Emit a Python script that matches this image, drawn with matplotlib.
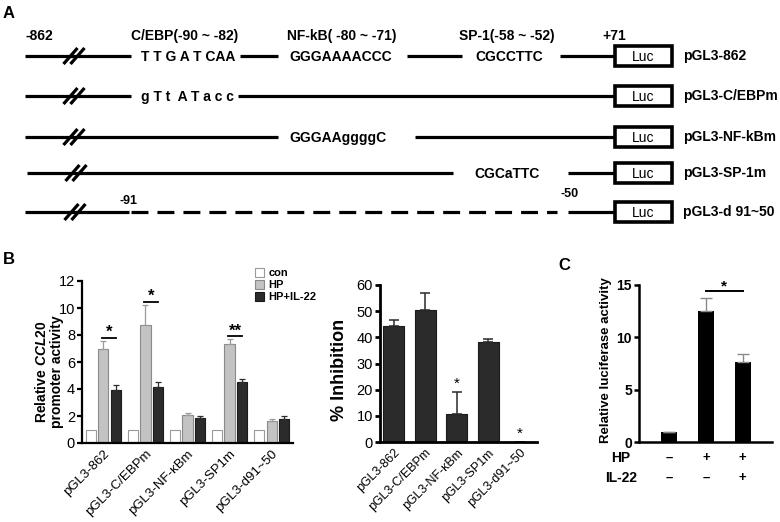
import matplotlib
matplotlib.use('Agg')
import matplotlib.pyplot as plt
import numpy as np
from matplotlib.patches import Rectangle

plt.rcParams['font.family'] = ['Liberation Sans', 'DejaVu Sans']
plt.rcParams['mathtext.fontset'] = 'custom'
plt.rcParams['mathtext.it'] = 'Liberation Sans:italic:bold'
plt.rcParams['mathtext.rm'] = 'Liberation Sans:bold'
plt.rcParams['mathtext.bf'] = 'Liberation Sans:bold'
plt.rcParams['lines.scale_dashes'] = False

# ---------------- data ----------------
# Panel A (promoter constructs)
construct_names = ['pGL3-862', 'pGL3-C/EBPm', 'pGL3-NF-kBm', 'pGL3-SP-1m', 'pGL3-d 91~50']
site_titles = ['C/EBP(-90 ~ -82)', 'NF-kB( -80 ~ -71)', 'SP-1(-58 ~ -52)']
wt_sites = ['T T G A T CAA', 'GGGAAAACCC', 'CGCCTTC']
mut_sites = ['g T t  A T a c c', 'GGGAAggggC', 'CGCaTTC']
end_labels = ['-862', '+71']
deletion_labels = ['-91', '-50']
reporter = 'Luc'

# Panel B (left): relative CCL20 promoter activity
b_constructs = ['pGL3-862', 'pGL3-C/EBPm', 'pGL3-NF-\u03baBm', 'pGL3-SP1m', 'pGL3-d91~50']
series_names = ['con', 'HP', 'HP+IL-22']
con_vals = [1.0, 1.0, 1.0, 1.0, 1.0]
hp_vals = [6.96, 8.74, 2.05, 7.31, 1.63]
hp_err = [0.6, 1.5, 0.15, 0.37, 0.13]
il_vals = [3.93, 4.12, 1.85, 4.50, 1.78]
il_err = [0.37, 0.40, 0.18, 0.24, 0.22]
b_sig_groups = [0, 1, 3]
b_sig_marks = ['*', '*', '**']

# Panel B (right): % inhibition
inhib_vals = [44.2, 50.6, 10.6, 38.2, 0.0]
inhib_err = [2.6, 6.2, 8.6, 1.0, 0.0]
inhib_sig = [2, 4]

# Panel C
c_vals = [1.0, 12.5, 7.6]
c_err = [0.0, 1.3, 0.85]
c_hp = ['\u2013', '+', '+']
c_il22 = ['\u2013', '\u2013', '+']

# ---------------- figure ----------------
fig = plt.figure(figsize=(7.8, 5.22), dpi=100)
ax0 = fig.add_axes([0, 0, 1, 1])
ax0.set_xlim(0, 780)
ax0.set_ylim(522, 0)
ax0.axis('off')

LW = 2.3
BOLD = dict(fontweight='bold')

def seg(x1, x2, y, **kw):
    ax0.plot([x1, x2], [y, y], color='black', lw=LW, solid_capstyle='butt', **kw)

def brk(xc, y):
    for off in (-3.5, 3.5):
        ax0.plot([xc + off - 7, xc + off + 7], [y + 8, y - 8], color='black', lw=LW,
                 solid_capstyle='butt')

def luc(y, name):
    ax0.add_patch(Rectangle((615, y - 10), 57, 20, facecolor='white', edgecolor='black', lw=2.6))
    ax0.text(643.5, y + 1, reporter, ha='center', va='center', fontsize=10)
    ax0.text(683, y, name, ha='left', va='center', fontsize=10, **BOLD)

row_y = [56, 96, 137, 173, 212]

# header labels
ax0.text(25, 36, end_labels[0], ha='left', va='center', fontsize=10, **BOLD)
for xc, t in zip([185, 342, 507], site_titles):
    ax0.text(xc, 36, t, ha='center', va='center', fontsize=10, **BOLD)
ax0.text(614, 36, end_labels[1], ha='center', va='center', fontsize=10, **BOLD)

# row 1: wild type
y = row_y[0]
seg(25, 131, y); seg(240, 278, y); seg(407, 462, y); seg(560, 615, y)
brk(74, y)
for xc, t in zip([188, 341, 509], wt_sites):
    ax0.text(xc, y + 1, t, ha='center', va='center', fontsize=10, **BOLD)
luc(y, construct_names[0])

# row 2: C/EBP mutant
y = row_y[1]
seg(25, 131, y); seg(238, 615, y)
brk(74, y)
ax0.text(187, y + 1, mut_sites[0], ha='center', va='center', fontsize=10, **BOLD)
luc(y, construct_names[1])

# row 3: NF-kB mutant
y = row_y[2]
seg(25, 278, y); seg(415, 615, y)
brk(74, y)
ax0.text(338, y + 1, mut_sites[1], ha='center', va='center', fontsize=10, **BOLD)
luc(y, construct_names[2])

# row 4: SP-1 mutant
y = row_y[3]
seg(27, 453, y); seg(568, 615, y)
brk(76, y)
ax0.text(507, y + 1, mut_sites[2], ha='center', va='center', fontsize=10, **BOLD)
luc(y, construct_names[3])

# row 5: deletion
y = row_y[4]
seg(25, 129, y)
ax0.plot([131, 557], [y, y], color='black', lw=LW, linestyle=(0, (12.2, 6.5)),
         solid_capstyle='butt', dash_capstyle='butt')
seg(568, 615, y)
brk(75, y)
ax0.text(129, 201, deletion_labels[0], ha='center', va='center', fontsize=9, **BOLD)
ax0.text(570, 194, deletion_labels[1], ha='center', va='center', fontsize=9, **BOLD)
luc(y, construct_names[4])

# panel letters
ax0.text(3, 13, 'A', ha='left', va='center', fontsize=12, **BOLD)
ax0.text(3, 259, 'B', ha='left', va='center', fontsize=12, **BOLD)
ax0.text(558, 266, 'C', ha='left', va='center', fontsize=12, **BOLD)

# y labels
ax0.text(49, 372, 'Relative $\\mathit{CCL20}$\npromoter activity', rotation=90,
         ha='center', va='center', fontsize=10, multialignment='center',
         linespacing=1.05, **BOLD)
ax0.text(340, 370, '% Inhibition', rotation=90, ha='center', va='center',
         fontsize=13, **BOLD)
ax0.text(606, 360, 'Relative luciferase activity', rotation=90, ha='center',
         va='center', fontsize=9.5, **BOLD)

def style_axes(ax, lw=1.6):
    ax.set_facecolor('none')
    for s in ('top', 'right'):
        ax.spines[s].set_visible(False)
    for s in ('left', 'bottom'):
        ax.spines[s].set_linewidth(lw)
    ax.tick_params(axis='x', length=0)
    ax.tick_params(axis='y', length=3.5, width=lw, pad=1.5)

# ---------------- panel B left ----------------
axB1 = fig.add_axes([82 / 780, 1 - 443 / 522, 211 / 780, 162 / 522])
style_axes(axB1, 1.6)
x = np.arange(len(b_constructs))
w = 0.24
off = 0.29
h1 = axB1.bar(x - off, con_vals, w, color='white', edgecolor='#9a9a9a', lw=0.8)
h2 = axB1.bar(x, hp_vals, w, color='#c3c3c3', edgecolor='#8a8a8a', lw=0.8)
h3 = axB1.bar(x + off, il_vals, w, color='#2b2b2b', edgecolor='#1a1a1a', lw=0.8)
axB1.errorbar(x, hp_vals, yerr=[np.zeros(len(x)), hp_err], fmt='none',
              ecolor='#9a9a9a', elinewidth=0.9, capsize=2.2, capthick=0.9, zorder=1)
axB1.errorbar(x + off, il_vals, yerr=[np.zeros(len(x)), il_err], fmt='none',
              ecolor='#2b2b2b', elinewidth=0.9, capsize=2.2, capthick=0.9, zorder=1)
for g, m in zip(b_sig_groups, b_sig_marks):
    ly = hp_vals[g] + hp_err[g] + 0.22
    axB1.plot([g - 0.03, g + off], [ly, ly], color='black', lw=1.3)
    axB1.text(g + off / 2 - 0.01, ly - 0.15, m, ha='center', va='bottom', fontsize=12, **BOLD)
axB1.set_xlim(-0.51, 4.51)
axB1.set_ylim(0, 12)
axB1.set_yticks(np.arange(0, 13, 2))
axB1.tick_params(axis='y', labelsize=10.5)
axB1.set_xticks(x)
axB1.set_xticklabels(b_constructs, rotation=45, ha='right', va='top',
                     rotation_mode='anchor', fontsize=9.5)
axB1.legend([h1, h2, h3], series_names, loc='upper left',
            bbox_to_anchor=(255 / 780, 1 - 268 / 522), bbox_transform=fig.transFigure,
            frameon=False, prop={'weight': 'bold', 'size': 8}, handlelength=0.8,
            handleheight=0.9, handletextpad=0.4, labelspacing=0.12, borderpad=0,
            borderaxespad=0)

# ---------------- panel B right ----------------
axB2 = fig.add_axes([380 / 780, 1 - 442 / 522, 157 / 780, 157 / 522])
style_axes(axB2, 2.0)
axB2.bar(x, inhib_vals, 0.66, color='#2b2b2b', edgecolor='#1a1a1a', lw=0.8)
axB2.errorbar(x, inhib_vals, yerr=[np.zeros(len(x)), inhib_err], fmt='none',
              ecolor='#2b2b2b', elinewidth=1.1, capsize=3.6, capthick=1.1, zorder=1)
for g in inhib_sig:
    axB2.text(g, inhib_vals[g] + inhib_err[g] + 0.5, '*', ha='center', va='bottom',
              fontsize=11)
axB2.set_xlim(-0.43, 4.54)
axB2.set_ylim(0, 60)
axB2.set_yticks(np.arange(0, 61, 10))
axB2.tick_params(axis='y', labelsize=10.5)
axB2.set_xticks(x)
axB2.set_xticklabels(b_constructs, rotation=45, ha='right', va='top',
                     rotation_mode='anchor', fontsize=9)

# ---------------- panel C ----------------
axC = fig.add_axes([639 / 780, 1 - 442 / 522, 133 / 780, 157 / 522])
style_axes(axC, 1.8)
xc = np.arange(len(c_vals))
axC.bar(xc, c_vals, 0.44, color='black')
axC.errorbar(xc, c_vals, yerr=[np.zeros(len(xc)), c_err], fmt='none',
             ecolor='#8a8a8a', elinewidth=1.0, capsize=4.2, capthick=1.0, zorder=1)
ly = 14.4
axC.plot([1, 2], [ly, ly], color='black', lw=1.4)
axC.text(1.5, ly - 0.2, '*', ha='center', va='bottom', fontsize=11, **BOLD)
axC.set_xlim(-0.82, 2.80)
axC.set_ylim(0, 15)
axC.set_yticks([0, 5, 10, 15])
for lab in axC.get_yticklabels():
    lab.set_fontweight('bold')
axC.tick_params(axis='y', labelsize=10)
axC.set_xticks([])
tr = axC.get_xaxis_transform()
for i in xc:
    axC.text(i, -0.102, c_hp[i], transform=tr, ha='center', va='center', fontsize=9.5,
             **BOLD, clip_on=False)
    axC.text(i, -0.229, c_il22[i], transform=tr, ha='center', va='center', fontsize=9.5,
             **BOLD, clip_on=False)
ax0.text(621, 458, 'HP', ha='center', va='center', fontsize=10, **BOLD)
ax0.text(621, 478, 'IL-22', ha='center', va='center', fontsize=10, **BOLD)

fig.savefig('out.png', dpi=100)
